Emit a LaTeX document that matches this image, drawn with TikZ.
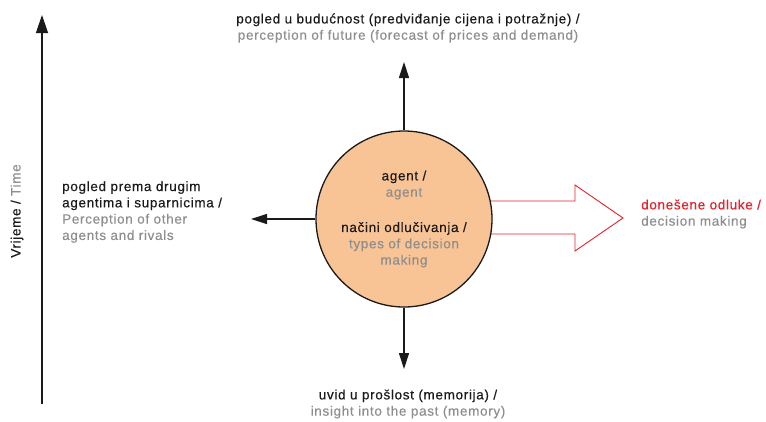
\documentclass[tikz,border=0pt]{standalone}
\usepackage{fontspec}
\setmainfont{Liberation Sans}[LetterSpace=5,FakeBold=0.35]
\usetikzlibrary{arrows.meta}
\definecolor{peach}{HTML}{F9C495}
\definecolor{txtgray}{HTML}{8E8E8E}
\definecolor{arrred}{HTML}{E3222B}
\definecolor{txtblack}{HTML}{1A1A1A}
\begin{document}
\begin{tikzpicture}[x=1pt,y=-1pt,
  lbl/.style={font=\fontsize{13.5}{16.3}\selectfont, text=txtblack, inner sep=0pt},
  conn/.style={line width=1.3pt, draw=txtblack, -{Triangle[length=16pt,width=10pt]}},
  gr/.style={text=txtgray}]
\useasboundingbox (0,0) rectangle (766,421);
% time axis
\coordinate (t0) at (42,404);
\coordinate (t1) at (42,15);
\draw[line width=1.3pt, draw=txtblack, -{Triangle[length=18pt,width=12pt]}] (t0) -- (t1);
\node[lbl, rotate=90] (time) at (17,211) {Vrijeme / \textcolor{txtgray}{Time}};
% red decision arrow
\draw[arrred, line width=0.9pt, fill=white] (470,201) -- (575,201) -- (575,185) -- (623,218) -- (575,251) -- (575,234) -- (470,234);
% agent circle
\node[circle, draw=txtblack, line width=1.3pt, fill=peach, minimum size=176pt, inner sep=0pt,
      lbl, align=center] (ag) at (404,219)
  {agent /\\ \textcolor{txtgray}{agent}\\[19pt] načini odlučivanja /\\ \textcolor{txtgray}{types of decision}\\ \textcolor{txtgray}{making}};
% arrow ends
\coordinate (upT) at (404,62);
\coordinate (dnT) at (404,369);
\coordinate (lfT) at (251,219);
\draw[conn] (ag.north) -- (upT);
\draw[conn] (ag.south) -- (dnT);
\draw[conn] (ag.west) -- (lfT);
% labels
\node[lbl, align=center] (up) at (408,28) {pogled u budućnost (predviđanje cijena i potražnje) /\\ \textcolor{txtgray}{perception of future (forecast of prices and demand)}};
\node[lbl, align=center] (dn) at (408,404) {uvid u prošlost (memorija) /\\ \textcolor{txtgray}{insight into the past (memory)}};
\node[lbl, align=left, anchor=west] (lf) at (62,212) {pogled prema drugim\\ agentima i suparnicima /\\ \textcolor{txtgray}{Perception of other}\\ \textcolor{txtgray}{agents and rivals}};
\node[lbl, align=left, anchor=west] (rt) at (641,214) {\textcolor{arrred}{donešene odluke /}\\ \textcolor{txtgray}{decision making}};
\end{tikzpicture}
\end{document}
